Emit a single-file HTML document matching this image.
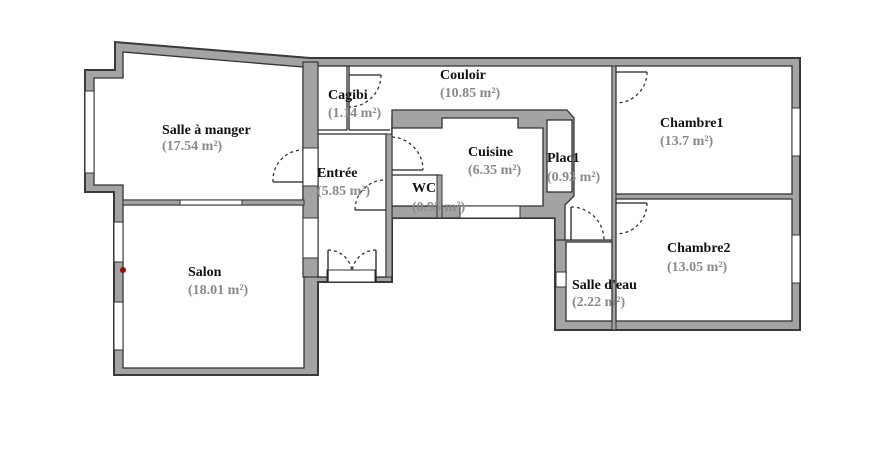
<!DOCTYPE html>
<html><head><meta charset="utf-8"><style>
html,body{margin:0;padding:0;background:#fff;width:886px;height:453px;overflow:hidden}
svg{display:block}
.l{font-family:"Liberation Serif",serif;font-weight:bold;font-size:14px;fill:#111}
.a{font-family:"Liberation Serif",serif;font-weight:bold;font-size:14px;fill:#8a8a8a}
.d{fill:none;stroke:#333;stroke-width:1.3;stroke-dasharray:3,3}
.t{stroke:#222;stroke-width:1.3}
</style></head><body>
<svg width="886" height="453" viewBox="0 0 886 453">
<polygon points="115,42 310,58 800,58 800,330 555,330 555,218 392,218 392,282 318,282 318,375 114,375 114,192 85,192 85,70 115,70" fill="#a3a3a3" stroke="#3a3a3a" stroke-width="2"/>
<polygon points="123,52 303,67 303,200 123,200 123,185 94,185 94,78 123,78" fill="#fff" stroke="#333" stroke-width="1.3"/>
<rect x="123" y="205" width="181" height="163" fill="#fff" stroke="#333" stroke-width="1.3"/>
<polygon points="318,66 612,66 612,240 564,240 564,205 543,205 543,128 518,128 518,118 392,118 392,277 318,277" fill="#fff" stroke="#333" stroke-width="1.3"/>
<polygon points="392,110 567,110 574,118 574,196 565,205 565,240 555,240 555,218 392,218" fill="#a3a3a3" stroke="#333" stroke-width="1.3"/>
<polygon points="392,128 442,128 442,118 518,118 518,128 543,128 543,206 392,206" fill="#fff" stroke="#333" stroke-width="1.3"/>
<rect x="547" y="120" width="25" height="72" fill="#fff" stroke="#333" stroke-width="1.3"/>
<rect x="460" y="206" width="60" height="12" fill="#fff" stroke="#333" stroke-width="1"/>
<rect x="392" y="175" width="47" height="31" fill="#fff" stroke="#333" stroke-width="1.3"/>
<rect x="437" y="175" width="5" height="43" fill="#a3a3a3" stroke="#333" stroke-width="1"/>
<rect x="315" y="66" width="32" height="64" fill="#fff" stroke="#333" stroke-width="1.3"/>
<line x1="349" y1="66" x2="349" y2="130" class="t"/>
<line x1="349" y1="130" x2="390" y2="130" class="t"/>
<rect x="318" y="134" width="68" height="143" fill="#fff" stroke="#333" stroke-width="1.3"/>
<rect x="303" y="62" width="15" height="215" fill="#a3a3a3" stroke="#333" stroke-width="1.2"/>
<rect x="303" y="148" width="15" height="38" fill="#fff" stroke="#333" stroke-width="1"/>
<rect x="303" y="218" width="15" height="40" fill="#fff" stroke="#333" stroke-width="1"/>
<rect x="386" y="134" width="6" height="143" fill="#a3a3a3" stroke="#333" stroke-width="1"/>
<rect x="123" y="200" width="181" height="5" fill="#a3a3a3" stroke="#333" stroke-width="1"/>
<rect x="180" y="200" width="62" height="5" fill="#fff" stroke="#333" stroke-width="1"/>
<rect x="85" y="91" width="9" height="82" fill="#fff" stroke="#333" stroke-width="1"/>
<rect x="114" y="222" width="9" height="40" fill="#fff" stroke="#333" stroke-width="1"/>
<rect x="114" y="302" width="9" height="48" fill="#fff" stroke="#333" stroke-width="1"/>
<circle cx="123" cy="270" r="3" fill="#8b1010"/>
<rect x="612" y="66" width="4" height="264" fill="#a3a3a3" stroke="#333" stroke-width="1"/>
<rect x="616" y="66" width="176" height="128" fill="#fff" stroke="#333" stroke-width="1.3"/>
<rect x="616" y="199" width="176" height="122" fill="#fff" stroke="#333" stroke-width="1.3"/>
<rect x="566" y="242" width="46" height="79" fill="#fff" stroke="#333" stroke-width="1.3"/>
<rect x="792" y="108" width="8" height="48" fill="#fff" stroke="#333" stroke-width="1"/>
<rect x="792" y="235" width="8" height="48" fill="#fff" stroke="#333" stroke-width="1"/>
<rect x="556" y="272" width="10" height="15" fill="#fff" stroke="#333" stroke-width="1"/>
<rect x="327" y="270" width="48" height="12" fill="#fff" stroke="#333" stroke-width="1"/>
<line x1="273" y1="182" x2="303" y2="182" class="t"/><path class="d" d="M273,182 A30,30 0 0 1 303,150"/>
<line x1="355" y1="210" x2="386" y2="210" class="t"/><path class="d" d="M355,210 A30,30 0 0 1 386,180"/>
<line x1="349" y1="75" x2="381" y2="75" class="t"/><path class="d" d="M381,75 A32,32 0 0 1 349,107"/>
<line x1="392" y1="170" x2="423" y2="170" class="t"/><path class="d" d="M392,137 A33,33 0 0 1 423,170"/>
<path class="d" d="M328,250 A24,24 0 0 1 352,272 M376,250 A24,24 0 0 0 352,272"/>
<line x1="328" y1="250" x2="328" y2="282" class="t"/><line x1="376" y1="250" x2="376" y2="282" class="t"/>
<line x1="616" y1="72" x2="647" y2="72" class="t"/><path class="d" d="M647,72 A31,31 0 0 1 616,103"/>
<line x1="616" y1="203" x2="647" y2="203" class="t"/><path class="d" d="M647,203 A31,31 0 0 1 616,234"/>
<line x1="571" y1="207" x2="571" y2="240" class="t"/><path class="d" d="M571,207 A33,33 0 0 1 604,240"/>
<text class="l" x="162" y="134">Salle à manger</text><text class="a" x="162" y="150">(17.54 m²)</text>
<text class="l" x="188" y="276">Salon</text><text class="a" x="188" y="294">(18.01 m²)</text>
<text class="l" x="328" y="99">Cagibi</text><text class="a" x="328" y="117">(1.14 m²)</text>
<text class="l" x="440" y="79">Couloir</text><text class="a" x="440" y="97">(10.85 m²)</text>
<text class="l" x="317" y="177">Entrée</text><text class="a" x="317" y="195">(5.85 m²)</text>
<text class="l" x="468" y="156">Cuisine</text><text class="a" x="468" y="174">(6.35 m²)</text>
<text class="l" x="412" y="192">WC</text><text class="a" x="412" y="211">(0.95 m²)</text>
<text class="l" x="547" y="162">Plac1</text><text class="a" x="547" y="181">(0.93 m²)</text>
<text class="l" x="660" y="127">Chambre1</text><text class="a" x="660" y="145">(13.7 m²)</text>
<text class="l" x="667" y="252">Chambre2</text><text class="a" x="667" y="271">(13.05 m²)</text>
<text class="l" x="572" y="289">Salle d'eau</text><text class="a" x="572" y="306">(2.22 m²)</text>
</svg>
</body></html>
